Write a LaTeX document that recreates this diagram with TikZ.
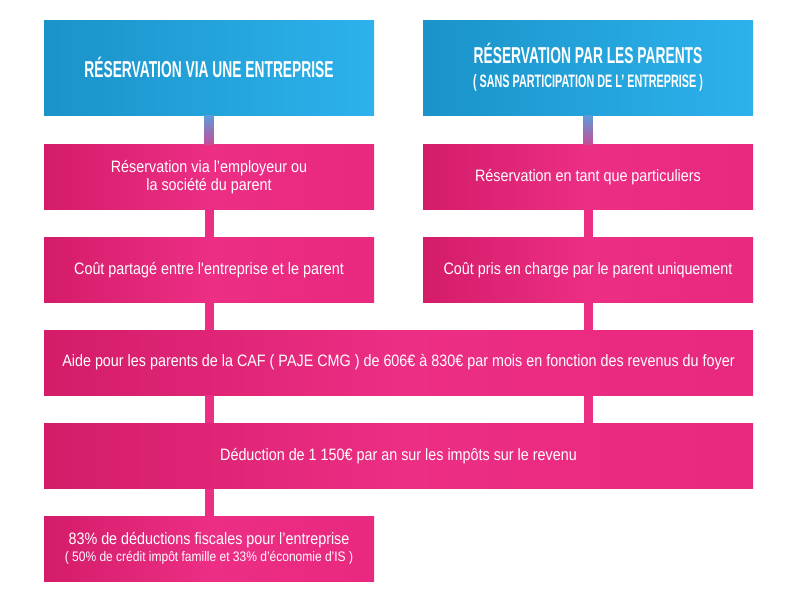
\documentclass[tikz,border=0pt]{standalone}
\usepackage{fontspec}
\setmainfont{Liberation Sans}[FakeStretch=0.87]
\newfontfamily\titlefont{Liberation Sans}[FakeStretch=0.6]
\usetikzlibrary{calc}
\definecolor{bluedark}{HTML}{1A93C9}
\definecolor{bluelight}{HTML}{2DB2EC}
\definecolor{pinkdark}{HTML}{D41C69}
\definecolor{pinkmid}{HTML}{EC2E84}
\definecolor{pinklight}{HTML}{E9287F}
\definecolor{stemtop}{HTML}{5E9CDA}
\definecolor{stembot}{HTML}{C24E98}
\tikzset{
	bluebox/.style={left color=bluedark, right color=bluelight, text=white, inner sep=0pt, minimum width=330pt, minimum height=95pt, align=center, font=\titlefont\bfseries\fontsize{23}{25}\selectfont},
	pinkbox/.style={left color=pinkdark, right color=pinklight, middle color=pinkmid, text=white, inner sep=0pt, minimum width=330pt, minimum height=65pt, align=center, font=\fontsize{16.5}{18.5}\selectfont},
	widebox/.style={pinkbox, minimum width=709pt},
	stem/.style={line width=9pt, draw=pinkmid}
}

\begin{document}
\begin{tikzpicture}[x=1pt, y=-1pt]
			%%%%% START %%%%%
			
			\useasboundingbox[fill=white] (0, 0) rectangle (800, 600);
			
			\node[bluebox] (t1) at (209, 67.5) {RÉSERVATION VIA UNE ENTREPRISE};
			\node[bluebox] (t2) at (588, 67.5) {RÉSERVATION PAR LES PARENTS\\[-1pt]{\fontsize{18}{20}\selectfont ( SANS PARTICIPATION DE L’ ENTREPRISE )}};
			
			\node[pinkbox] (l2) at (209, 177) {Réservation via l’employeur ou\\la société du parent};
			\node[pinkbox] (r2) at (588, 177) {Réservation en tant que particuliers};
			
			\node[pinkbox] (l3) at (209, 270) {Coût partagé entre l\textquotesingle entreprise et le parent};
			\node[pinkbox] (r3) at (588, 270) {Coût pris en charge par le parent uniquement};
			
			\node[widebox] (w4) at (398.5, 362.5) {Aide pour les parents de la CAF ( PAJE CMG ) de 606€ à 830€ par mois en fonction des revenus du foyer};
			\node[widebox] (w5) at (398.5, 456) {Déduction de 1 150€ par an sur les impôts sur le revenu};
			
			\node[pinkbox] (l6) at (209, 548.5) {83\% de déductions fiscales pour l’entreprise\\[-1pt]{\fontsize{13.8}{15}\selectfont ( 50\% de crédit impôt famille et 33\% d’économie d’IS )}};
			
			\shade[top color=stemtop, bottom color=stembot] ($(t1.south)+(-4.5, 0)$) rectangle ($(l2.north)+(4.5, 0)$);
			\shade[top color=stemtop, bottom color=stembot] ($(t2.south)+(-4.5, 0)$) rectangle ($(r2.north)+(4.5, 0)$);
			
			\draw[stem] (l2.south) -- (l3.north);
			\draw[stem] (r2.south) -- (r3.north);
			\draw[stem] (l3.south) -- (l3.south |- w4.north);
			\draw[stem] (r3.south) -- (r3.south |- w4.north);
			\draw[stem] (l3.south |- w4.south) -- (l3.south |- w5.north);
			\draw[stem] (r3.south |- w4.south) -- (r3.south |- w5.north);
			\draw[stem] (l3.south |- w5.south) -- (l6.north);
			
			%%%%% END %%%%%
\end{tikzpicture}
\end{document}
